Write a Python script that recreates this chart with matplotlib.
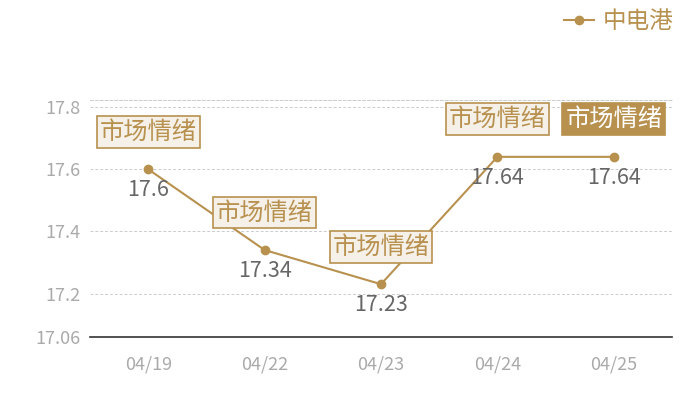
import matplotlib
matplotlib.use('Agg')
import matplotlib.pyplot as plt

plt.rcParams['font.family'] = ['Noto Sans CJK SC', 'DejaVu Sans']

# data
dates = ['04/19', '04/22', '04/23', '04/24', '04/25']
prices = [17.6, 17.34, 17.23, 17.64, 17.64]
yticks = [17.06, 17.2, 17.4, 17.6, 17.8]
series_name = '中电港'
tag_text = '市场情绪'

gold = '#b8914f'

fig = plt.figure(figsize=(7, 4), dpi=100)
ax = fig.add_axes([90 / 700, 1 - 337 / 400, 582 / 700, 237 / 400])

x = list(range(len(dates)))
ax.plot(x, prices, color=gold, lw=1.5, marker='o', ms=6, label=series_name, zorder=3)

ax.set_xlim(-0.5, len(dates) - 0.5)
ax.set_ylim(17.06, 17.823)
ax.set_yticks(yticks)
ax.set_yticklabels([str(v) for v in yticks])
ax.set_xticks(x)
ax.set_xticklabels(dates)
ax.tick_params(length=0, labelsize=13, colors='#aaaaaa', pad=7)
ax.tick_params(axis='x', pad=13)

for s in ['left', 'right']:
    ax.spines[s].set_visible(False)
ax.spines['top'].set_color('#cccccc')
ax.spines['top'].set_linestyle((0, (3, 2)))
ax.spines['top'].set_linewidth(0.7)
ax.spines['bottom'].set_color('#333333')
ax.spines['bottom'].set_linewidth(1.2)

for v in yticks[1:]:
    ax.axhline(v, color='#cccccc', lw=0.7, ls=(0, (3, 2)), zorder=1)

# value labels and tags
for i, v in enumerate(prices):
    ax.annotate(f'{v:g}', (i, v), xytext=(0, -7), textcoords='offset points',
                ha='center', va='top', fontsize=15.5, color='#666666', zorder=4)
    last = i == len(prices) - 1
    ax.annotate(tag_text, (i, v), xytext=(0, 27), textcoords='offset points',
                ha='center', va='center', fontsize=17.5,
                color='white' if last else gold,
                bbox=dict(boxstyle='square,pad=0.12',
                          fc=gold if last else '#f5f0e8',
                          ec=gold, lw=1.2),
                zorder=5)

leg = ax.legend(loc='upper right', bbox_to_anchor=(1.019, 1.42), frameon=False,
                fontsize=17, handlelength=1.3, handletextpad=0.35,
                borderaxespad=0, labelcolor=gold)

fig.savefig('out.png', dpi=100)
